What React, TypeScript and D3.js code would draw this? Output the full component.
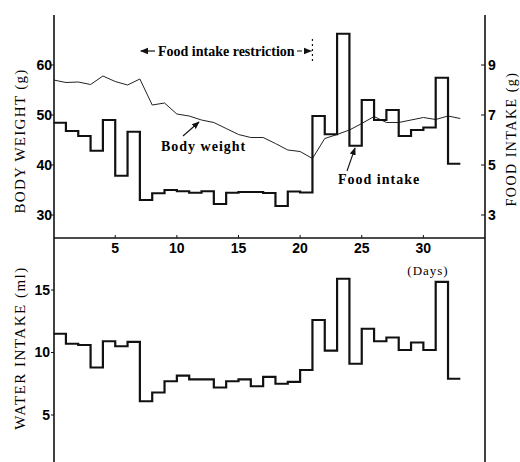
import React from 'react';
import * as d3 from 'd3';

// days 0..32 (one value per day, drawn as steps)
const foodIntake = [6.69, 6.36, 6.16, 5.57, 6.8, 4.57, 6.33, 3.6, 3.87, 4.0, 3.95, 3.89, 3.95, 3.44, 3.89, 3.92, 3.92, 3.88, 3.36, 3.94, 3.9, 6.96, 6.23, 10.25, 5.77, 7.6, 6.8, 7.2, 6.16, 6.4, 6.5, 8.49, 5.05];
const waterIntake = [11.5, 10.7, 10.6, 8.8, 10.9, 10.5, 10.85, 6.1, 6.8, 7.7, 8.15, 7.85, 7.85, 7.2, 7.7, 7.85, 7.3, 8.05, 7.5, 7.65, 8.6, 12.6, 10.15, 15.9, 9.1, 11.9, 10.9, 11.2, 10.2, 10.8, 10.2, 15.65, 7.9];
// days 0..33
const bodyWeight = [57.0, 56.5, 56.6, 56.1, 57.8, 56.7, 56.0, 57.2, 52.0, 52.4, 50.2, 49.8, 49.0, 48.5, 47.3, 46.1, 45.5, 45.5, 44.3, 43.0, 42.7, 41.3, 45.3, 46.1, 47.0, 48.3, 49.7, 48.5, 48.5, 49.0, 49.5, 49.1, 49.8, 49.3];

const dayTicks = [5, 10, 15, 20, 25, 30];
const weightTicks = [30, 40, 50, 60];
const foodTicks = [3, 5, 7, 9];
const waterTicks = [5, 10, 15];
const restriction = [7, 21];

const serif = '"Liberation Serif", "DejaVu Serif", serif';
const sans = '"Liberation Sans", Arial, sans-serif';

export default function App() {
  const left = 54, right = 485, top = 15, mid = 238, bottom = 462;

  const x = d3.scaleLinear().domain([0, 35]).range([53.6, 485]);
  const yW = d3.scaleLinear().domain([30, 60]).range([215, 65]);
  const yF = d3.scaleLinear().domain([3, 9]).range([215, 65]);
  const yWater = d3.scaleLinear().domain([5, 15]).range([415, 290]);

  const stepPts = (arr: number[]) => [...arr.map((v, i) => [i, v] as [number, number]), [arr.length, arr[arr.length - 1]] as [number, number]];

  const foodLine = d3.line<[number, number]>().x(d => x(d[0])).y(d => yF(d[1])).curve(d3.curveStepAfter);
  const waterLine = d3.line<[number, number]>().x(d => x(d[0])).y(d => yWater(d[1])).curve(d3.curveStepAfter);
  const weightLine = d3.line<number>().x((_, i) => x(i)).y(d => yW(d));

  const rx0 = x(restriction[0]), rx1 = x(restriction[1]);

  return (
    <svg width={520} height={462} style={{ position: 'absolute', left: 0, top: 0, background: '#fff' }}>
      <defs>
        <marker id="ah" viewBox="0 0 10 10" refX="9" refY="5" markerWidth="7" markerHeight="7" orient="auto-start-reverse">
          <path d="M0,1 L10,5 L0,9 z" fill="#111" />
        </marker>
      </defs>

      {/* axes */}
      <g stroke="#111" strokeWidth={1.6} fill="none">
        <line x1={left} y1={top} x2={left} y2={bottom} />
        <line x1={right} y1={top} x2={right} y2={bottom} />
        <line x1={left} y1={mid} x2={right} y2={mid} />
      </g>

      {/* left ticks - body weight */}
      {weightTicks.map(t => (
        <g key={'w' + t}>
          <line x1={left - 3} x2={left} y1={yW(t)} y2={yW(t)} stroke="#111" />
          <text x={left - 2} y={yW(t)} dy="0.35em" textAnchor="end" fontFamily={sans} fontWeight="bold" fontSize={14}>{t}</text>
        </g>
      ))}
      {/* right ticks - food intake */}
      {foodTicks.map(t => (
        <g key={'f' + t}>
          <line x1={right - 4} x2={right} y1={yF(t)} y2={yF(t)} stroke="#111" />
          <text x={right + 3} y={yF(t)} dy="0.35em" fontFamily={sans} fontWeight="bold" fontSize={14}>{t}</text>
        </g>
      ))}
      {/* water ticks */}
      {waterTicks.map(t => (
        <g key={'wa' + t}>
          <line x1={left - 3} x2={left} y1={yWater(t)} y2={yWater(t)} stroke="#111" />
          <text x={left - 4} y={yWater(t)} dy="0.35em" textAnchor="end" fontFamily={sans} fontWeight="bold" fontSize={14}>{t}</text>
        </g>
      ))}
      {/* day ticks */}
      {dayTicks.map(t => (
        <g key={'d' + t}>
          <line x1={x(t)} x2={x(t)} y1={mid} y2={mid - 3} stroke="#111" />
          <text x={x(t)} y={mid + 15} textAnchor="middle" fontFamily={sans} fontWeight="bold" fontSize={14}>{t}</text>
        </g>
      ))}
      <text x={428} y={275} textAnchor="middle" fontFamily={serif} fontSize={13} letterSpacing={1}>(Days)</text>

      {/* series */}
      <path d={weightLine(bodyWeight) || ''} fill="none" stroke="#222" strokeWidth={1} />
      <path d={foodLine(stepPts(foodIntake)) || ''} fill="none" stroke="#111" strokeWidth={2.2} />
      <path d={waterLine(stepPts(waterIntake)) || ''} fill="none" stroke="#111" strokeWidth={2.2} />

      {/* restriction annotation */}
      <line x1={155} y1={51} x2={rx0 + 1} y2={51} stroke="#111" strokeWidth={1.2} markerEnd="url(#ah)" />
      <text x={158} y={56} fontFamily={serif} fontWeight="bold" fontSize={14}>Food intake restriction</text>
      <line x1={297} y1={51} x2={rx1 - 1} y2={51} stroke="#111" strokeWidth={1.2} strokeDasharray="5,2" markerEnd="url(#ah)" />
      <line x1={rx1} y1={39} x2={rx1} y2={64} stroke="#111" strokeWidth={1.2} strokeDasharray="2,3" />

      {/* series labels */}
      <text x={161} y={151} fontFamily={serif} fontWeight="bold" fontSize={14} letterSpacing={1}>Body weight</text>
      <line x1={183} y1={136} x2={199} y2={122} stroke="#111" strokeWidth={1.1} markerEnd="url(#ah)" />
      <text x={338} y={184} fontFamily={serif} fontWeight="bold" fontSize={14} letterSpacing={1}>Food intake</text>
      <line x1={347} y1={171} x2={355} y2={148} stroke="#111" strokeWidth={1.1} markerEnd="url(#ah)" />

      {/* axis titles */}
      <text transform="translate(25,141) rotate(-90)" textAnchor="middle" fontFamily={serif} fontSize={15} letterSpacing={1.3}>BODY WEIGHT (g)</text>
      <text transform="translate(25,348) rotate(-90)" textAnchor="middle" fontFamily={serif} fontSize={15} letterSpacing={1.5}>WATER INTAKE (ml)</text>
      <text transform="translate(516,139) rotate(-90)" textAnchor="middle" fontFamily={serif} fontSize={14} letterSpacing={1.5}>FOOD INTAKE (g)</text>
    </svg>
  );
}
